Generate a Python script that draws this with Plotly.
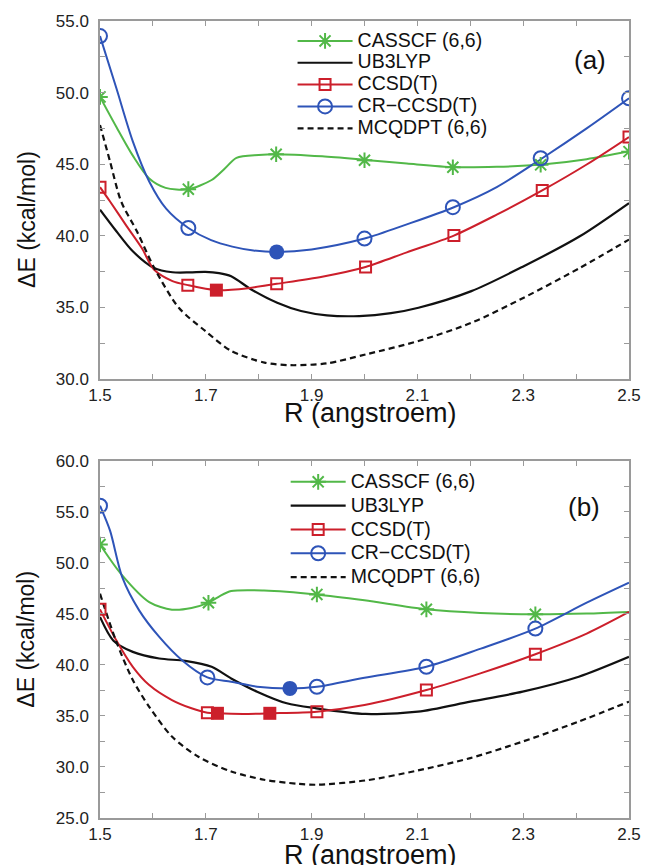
import plotly.graph_objects as go

# ---------------- panel (a) ----------------
a_cas_R = [1.5, 1.531, 1.562, 1.593, 1.624, 1.666, 1.711, 1.736, 1.758, 1.80, 1.834, 1.92, 2.002, 2.08, 2.169, 2.25, 2.336, 2.42, 2.5]
a_cas_E = [49.7, 47.6, 45.6, 44.0, 43.35, 43.25, 43.9, 44.7, 45.45, 45.65, 45.7, 45.55, 45.3, 45.05, 44.8, 44.82, 44.98, 45.35, 45.9]
a_cas_pt_R = [1.5, 1.667, 1.833, 2.0, 2.167, 2.333, 2.5]
a_cas_pt_E = [49.7, 43.26, 45.7, 45.28, 44.79, 44.96, 45.88]

a_ub3_R = [1.5, 1.531, 1.562, 1.602, 1.637, 1.67, 1.699, 1.725, 1.748, 1.786, 1.835, 1.88, 1.929, 1.99, 2.05, 2.102, 2.202, 2.301, 2.407, 2.5]
a_ub3_E = [41.83, 40.32, 38.92, 37.76, 37.46, 37.45, 37.48, 37.4, 37.18, 36.26, 35.33, 34.75, 34.45, 34.4, 34.6, 34.98, 36.14, 37.88, 39.97, 42.29]

a_ccsd_R = [1.5, 1.519, 1.55, 1.579, 1.602, 1.637, 1.666, 1.72, 1.78, 1.834, 1.92, 2.002, 2.08, 2.169, 2.25, 2.336, 2.42, 2.5]
a_ccsd_E = [43.4, 42.4, 40.7, 39.15, 37.65, 36.84, 36.56, 36.21, 36.35, 36.65, 37.15, 37.83, 38.85, 40.02, 41.48, 43.17, 44.98, 46.9]
a_ccsd_pt_R = [1.5, 1.666, 1.834, 2.002, 2.169, 2.336, 2.5]
a_ccsd_pt_E = [43.4, 36.56, 36.65, 37.83, 40.02, 43.17, 46.9]
a_ccsd_min_R = [1.72]
a_ccsd_min_E = [36.21]

a_cr_R = [1.5, 1.531, 1.562, 1.593, 1.625, 1.667, 1.71, 1.75, 1.79, 1.834, 1.9, 2.0, 2.08, 2.169, 2.25, 2.336, 2.42, 2.5]
a_cr_E = [53.95, 50.3, 46.6, 43.8, 41.9, 40.55, 39.7, 39.25, 38.98, 38.88, 39.05, 39.81, 40.8, 42.0, 43.4, 45.42, 47.5, 49.6]
a_cr_pt_R = [1.5, 1.667, 2.0, 2.167, 2.333, 2.5]
a_cr_pt_E = [53.95, 40.55, 39.81, 42.0, 45.42, 49.6]
a_cr_min_R = [1.834]
a_cr_min_E = [38.88]

a_mcq_R = [1.5, 1.519, 1.54, 1.57, 1.602, 1.649, 1.699, 1.748, 1.811, 1.86, 1.929, 2.003, 2.102, 2.202, 2.301, 2.407, 2.5]
a_mcq_E = [47.74, 45.19, 42.4, 40.3, 37.8, 34.98, 33.36, 31.97, 31.15, 30.97, 31.1, 31.73, 32.66, 33.93, 35.68, 37.76, 39.74]

# ---------------- panel (b) ----------------
b_cas_R = [1.5, 1.54, 1.593, 1.636, 1.673, 1.705, 1.725, 1.748, 1.81, 1.91, 2.0, 2.117, 2.219, 2.323, 2.42, 2.5]
b_cas_E = [51.8, 48.9, 46.16, 45.42, 45.58, 46.1, 46.7, 47.24, 47.3, 46.91, 46.33, 45.45, 45.09, 44.96, 45.03, 45.19]
b_cas_pt_R = [1.5, 1.705, 1.91, 2.117, 2.323]
b_cas_pt_E = [51.8, 46.1, 46.91, 45.45, 44.96]

b_ub3_R = [1.5, 1.525, 1.562, 1.612, 1.661, 1.711, 1.748, 1.797, 1.853, 1.909, 2.002, 2.101, 2.2, 2.299, 2.405, 2.5]
b_ub3_E = [44.7, 42.4, 41.28, 40.63, 40.4, 39.82, 38.68, 37.38, 36.24, 35.75, 35.2, 35.42, 36.4, 37.38, 38.84, 40.79]

b_ccsd_R = [1.5, 1.531, 1.562, 1.593, 1.636, 1.673, 1.703, 1.722, 1.77, 1.821, 1.91, 2.0, 2.117, 2.219, 2.323, 2.42, 2.5]
b_ccsd_E = [45.45, 42.4, 39.82, 38.03, 36.56, 35.75, 35.32, 35.26, 35.2, 35.26, 35.42, 36.07, 37.54, 39.17, 41.05, 43.07, 45.19]
b_ccsd_pt_R = [1.5, 1.703, 1.91, 2.117, 2.323]
b_ccsd_pt_E = [45.45, 35.32, 35.42, 37.54, 41.05]
b_ccsd_min_R = [1.722, 1.821]
b_ccsd_min_E = [35.26, 35.26]

b_cr_R = [1.5, 1.519, 1.542, 1.574, 1.612, 1.655, 1.703, 1.748, 1.797, 1.859, 1.91, 2.0, 2.117, 2.22, 2.323, 2.42, 2.5]
b_cr_E = [55.6, 53.16, 48.6, 45.35, 42.75, 40.47, 38.78, 38.35, 37.87, 37.7, 37.86, 38.75, 39.82, 41.6, 43.56, 46.1, 48.06]
b_cr_pt_R = [1.5, 1.703, 1.91, 2.117, 2.323]
b_cr_pt_E = [55.6, 38.78, 37.86, 39.82, 43.56]
b_cr_min_R = [1.859]
b_cr_min_E = [37.7]

b_mcq_R = [1.5, 1.53, 1.562, 1.593, 1.636, 1.686, 1.748, 1.81, 1.872, 1.909, 2.002, 2.101, 2.2, 2.299, 2.405, 2.5]
b_mcq_E = [46.98, 42.4, 38.52, 35.9, 32.98, 31.0, 29.56, 28.75, 28.36, 28.26, 28.68, 29.66, 30.87, 32.49, 34.45, 36.4]

# ---------------- axes ----------------
x_tickvals = [1.5, 1.6, 1.7, 1.8, 1.9, 2.0, 2.1, 2.2, 2.3, 2.4, 2.5]
x_ticktext = ["1.5", "", "1.7", "", "1.9", "", "2.1", "", "2.3", "", "2.5"]
ya_tickvals = [30, 32.5, 35, 37.5, 40, 42.5, 45, 47.5, 50, 52.5, 55]
ya_ticktext = ["30.0", "", "35.0", "", "40.0", "", "45.0", "", "50.0", "", "55.0"]
yb_tickvals = [25, 27.5, 30, 32.5, 35, 37.5, 40, 42.5, 45, 47.5, 50, 52.5, 55, 57.5, 60]
yb_ticktext = ["25.0", "", "30.0", "", "35.0", "", "40.0", "", "45.0", "", "50.0", "", "55.0", "", "60.0"]

GREEN = "#52b848"
RED = "#cc1f2b"
BLUE = "#2e54b8"
BLACK = "#111111"

names = ["CASSCF (6,6)", "UB3LYP", "CCSD(T)", "CR\u2212CCSD(T)", "MCQDPT (6,6)"]

fig = go.Figure()


def add_panel(xa, ya, leg, cas, ub3, ccsd, cr, mcq, name_px):
    # smooth curves
    for (R, E), color, dash, w in [
        (cas[0], GREEN, "solid", 2),
        (ub3, BLACK, "solid", 2.2),
        (ccsd[0], RED, "solid", 2),
        (cr[0], BLUE, "solid", 2),
        (mcq, BLACK, "6px,4px", 2.2),
    ]:
        fig.add_trace(go.Scatter(x=R, y=E, mode="lines", xaxis=xa, yaxis=ya,
                                 line=dict(color=color, width=w, dash=dash, shape="spline", smoothing=0.8),
                                 showlegend=False, hoverinfo="skip"))
    # open markers
    fig.add_trace(go.Scatter(x=cas[1][0], y=cas[1][1], mode="markers", xaxis=xa, yaxis=ya, showlegend=False,
                             marker=dict(symbol="asterisk-open", size=13, color=GREEN, line=dict(color=GREEN, width=2))))
    fig.add_trace(go.Scatter(x=ccsd[1][0], y=ccsd[1][1], mode="markers", xaxis=xa, yaxis=ya, showlegend=False,
                             marker=dict(symbol="square-open", size=11, color=RED, line=dict(color=RED, width=2))))
    fig.add_trace(go.Scatter(x=cr[1][0], y=cr[1][1], mode="markers", xaxis=xa, yaxis=ya, showlegend=False,
                             marker=dict(symbol="circle-open", size=14, color=BLUE, line=dict(color=BLUE, width=2))))
    # filled minima
    fig.add_trace(go.Scatter(x=ccsd[2][0], y=ccsd[2][1], mode="markers", xaxis=xa, yaxis=ya, showlegend=False,
                             marker=dict(symbol="square", size=13, color=RED)))
    fig.add_trace(go.Scatter(x=cr[2][0], y=cr[2][1], mode="markers", xaxis=xa, yaxis=ya, showlegend=False,
                             marker=dict(symbol="circle", size=15, color=BLUE)))
    # legend entries
    styles = [
        dict(line=dict(color=GREEN, width=2), marker=dict(symbol="asterisk-open", size=13, color=GREEN, line=dict(color=GREEN, width=2)), mode="lines+markers"),
        dict(line=dict(color=BLACK, width=2.2), mode="lines"),
        dict(line=dict(color=RED, width=2), marker=dict(symbol="square-open", size=11, color=RED, line=dict(color=RED, width=2)), mode="lines+markers"),
        dict(line=dict(color=BLUE, width=2), marker=dict(symbol="circle-open", size=14, color=BLUE, line=dict(color=BLUE, width=2)), mode="lines+markers"),
        dict(line=dict(color=BLACK, width=2.2, dash="6px,4px"), mode="lines"),
    ]
    for nm, st in zip(names, styles):
        label = '<span style="font-size:%spx">%s</span>' % (name_px, nm)
        fig.add_trace(go.Scatter(x=[None], y=[None], xaxis=xa, yaxis=ya, name=label, legend=leg,
                                 showlegend=True, **st))


add_panel("x", "y", "legend",
          ((a_cas_R, a_cas_E), (a_cas_pt_R, a_cas_pt_E)),
          (a_ub3_R, a_ub3_E),
          ((a_ccsd_R, a_ccsd_E), (a_ccsd_pt_R, a_ccsd_pt_E), (a_ccsd_min_R, a_ccsd_min_E)),
          ((a_cr_R, a_cr_E), (a_cr_pt_R, a_cr_pt_E), (a_cr_min_R, a_cr_min_E)),
          (a_mcq_R, a_mcq_E), 19.5)
add_panel("x2", "y2", "legend2",
          ((b_cas_R, b_cas_E), (b_cas_pt_R, b_cas_pt_E)),
          (b_ub3_R, b_ub3_E),
          ((b_ccsd_R, b_ccsd_E), (b_ccsd_pt_R, b_ccsd_pt_E), (b_ccsd_min_R, b_ccsd_min_E)),
          ((b_cr_R, b_cr_E), (b_cr_pt_R, b_cr_pt_E), (b_cr_min_R, b_cr_min_E)),
          (b_mcq_R, b_mcq_E), 19.5)

FONT = "Liberation Sans, Arial, sans-serif"
AX = dict(showline=True, linecolor="#9a9a9a", linewidth=1.5, mirror="ticks", ticks="inside",
          ticklen=5, tickwidth=1.2, tickcolor="#9a9a9a", showgrid=False, zeroline=False,
          tickfont=dict(family=FONT, size=17, color="#222"))

fig.update_layout(
    width=653, height=865,
    margin=dict(l=100, r=15, t=19, b=47),
    plot_bgcolor="white", paper_bgcolor="white",
    font=dict(family=FONT, color="#111"),
    xaxis=dict(AX, domain=[0, 1], anchor="y", range=[1.5, 2.5], tickvals=x_tickvals, ticktext=x_ticktext),
    yaxis=dict(AX, domain=[0.5507, 1], anchor="x", range=[30, 55], tickvals=ya_tickvals, ticktext=ya_ticktext,
               ticklabelstandoff=6),
    xaxis2=dict(AX, domain=[0, 1], anchor="y2", range=[1.5, 2.5], tickvals=x_tickvals, ticktext=x_ticktext),
    yaxis2=dict(AX, domain=[0, 0.4481], anchor="x2", range=[25, 60], tickvals=yb_tickvals, ticktext=yb_ticktext,
                ticklabelstandoff=6),
    legend=dict(x=0.364, y=0.995, xanchor="left", yanchor="top", bgcolor="rgba(0,0,0,0)",
                font=dict(family=FONT, size=14.5, color="#111"), itemwidth=55, tracegroupgap=0),
    legend2=dict(x=0.351, y=0.443, xanchor="left", yanchor="top", bgcolor="rgba(0,0,0,0)",
                 font=dict(family=FONT, size=16, color="#111"), itemwidth=55, tracegroupgap=0),
    showlegend=True,
)

annos = [
    dict(text="(a)", x=0.9257, y=0.951, size=26, angle=0),
    dict(text="(b)", x=0.9154, y=0.3905, size=26, angle=0),
    dict(text="R (angstroem)", x=0.511, y=0.508, size=27, angle=0),
    dict(text="R (angstroem)", x=0.511, y=-0.047, size=27, angle=0),
    dict(text="\u0394E (kcal/mol)", x=-0.1394, y=0.7507, size=23, angle=-90),
    dict(text="\u0394E (kcal/mol)", x=-0.1394, y=0.2241, size=23, angle=-90),
]
for an in annos:
    fig.add_annotation(xref="paper", yref="paper", showarrow=False, xanchor="center", yanchor="middle",
                       font=dict(family=FONT, color="#111", size=an["size"]),
                       text=an["text"], x=an["x"], y=an["y"], textangle=an["angle"])

fig.write_html("out.html")
